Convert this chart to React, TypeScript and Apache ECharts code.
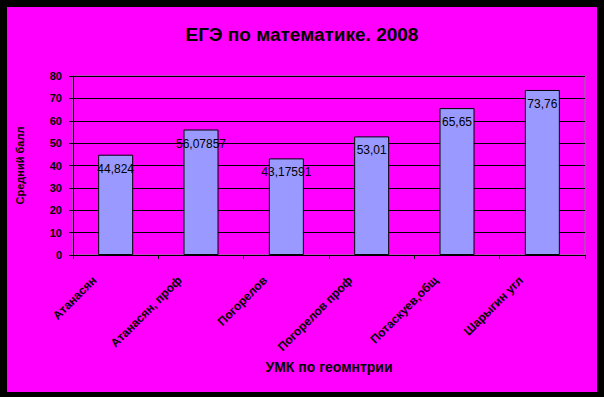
import React, { useEffect, useRef } from "react";
import * as echarts from "echarts";

const categories = [
  "Атанасян",
  "Атанасян, проф",
  "Погорелов",
  "Погорелов проф",
  "Потаскуев,общ",
  "Шарыгин угл",
];
const values = [44.824, 56.07857, 43.17591, 53.01, 65.65, 73.76];
const titleText = "ЕГЭ по математике. 2008";
const xAxisName = "УМК по геомнтрии";
const yAxisName = "Средний балл";

const FONT = "'Liberation Sans', Arial, sans-serif";

export default function App() {
  const ref = useRef<HTMLDivElement>(null);
  useEffect(() => {
    document.body.style.margin = "0";
    if (!ref.current) return;
    const chart = echarts.init(ref.current, null, { renderer: "svg" });
    chart.setOption({
      animation: false,
      backgroundColor: "#000000",
      title: {
        text: titleText,
        left: "center",
        top: 20,
        textStyle: { fontFamily: FONT, fontSize: 19, fontWeight: "bold", color: "#000" },
      },
      graphic: [
        {
          type: "rect",
          z: -10,
          silent: true,
          shape: { x: 7, y: 7, width: 590, height: 385 },
          style: { fill: "#FF00FF" },
        },
      ],
      grid: {
        left: 73,
        right: 19,
        top: 76,
        bottom: 142,
        show: true,
        borderColor: "#808080",
        borderWidth: 1,
        backgroundColor: "transparent",
      },
      xAxis: {
        type: "category",
        data: categories,
        name: xAxisName,
        nameLocation: "middle",
        nameGap: 105,
        nameTextStyle: { fontFamily: FONT, fontSize: 14, fontWeight: "bold", color: "#000" },
        axisLine: { show: true, lineStyle: { color: "#000", width: 1 } },
        axisTick: { show: true, length: 4, lineStyle: { color: "#000" } },
        axisLabel: {
          rotate: 45,
          interval: 0,
          margin: 2,
          padding: [0, 30, 0, 0],
          fontFamily: FONT,
          fontSize: 12,
          fontWeight: "bold",
          color: "#000",
        },
      },
      yAxis: {
        type: "value",
        min: 0,
        max: 80,
        interval: 10,
        name: yAxisName,
        nameLocation: "middle",
        nameRotate: 90,
        nameGap: 48,
        nameTextStyle: { fontFamily: FONT, fontSize: 11, fontWeight: "bold", color: "#000" },
        axisLine: { show: true, lineStyle: { color: "#000", width: 1 } },
        axisTick: { show: true, length: 4, lineStyle: { color: "#000" } },
        splitLine: { show: true, lineStyle: { color: "#000", width: 1 } },
        axisLabel: {
          margin: 11,
          fontFamily: FONT,
          fontSize: 11,
          fontWeight: "bold",
          color: "#000",
        },
      },
      series: [
        {
          type: "bar",
          data: values,
          barWidth: 35,
          itemStyle: { color: "#9999FF", borderColor: "#000", borderWidth: 1 },
          label: {
            show: true,
            position: "insideTop",
            distance: 8,
            fontFamily: FONT,
            fontSize: 12,
            color: "#000",
            formatter: (p: any) => String(p.value).replace(".", ","),
          },
        },
      ],
    });
    return () => chart.dispose();
  }, []);
  return <div ref={ref} style={{ width: 604, height: 397 }} />;
}
